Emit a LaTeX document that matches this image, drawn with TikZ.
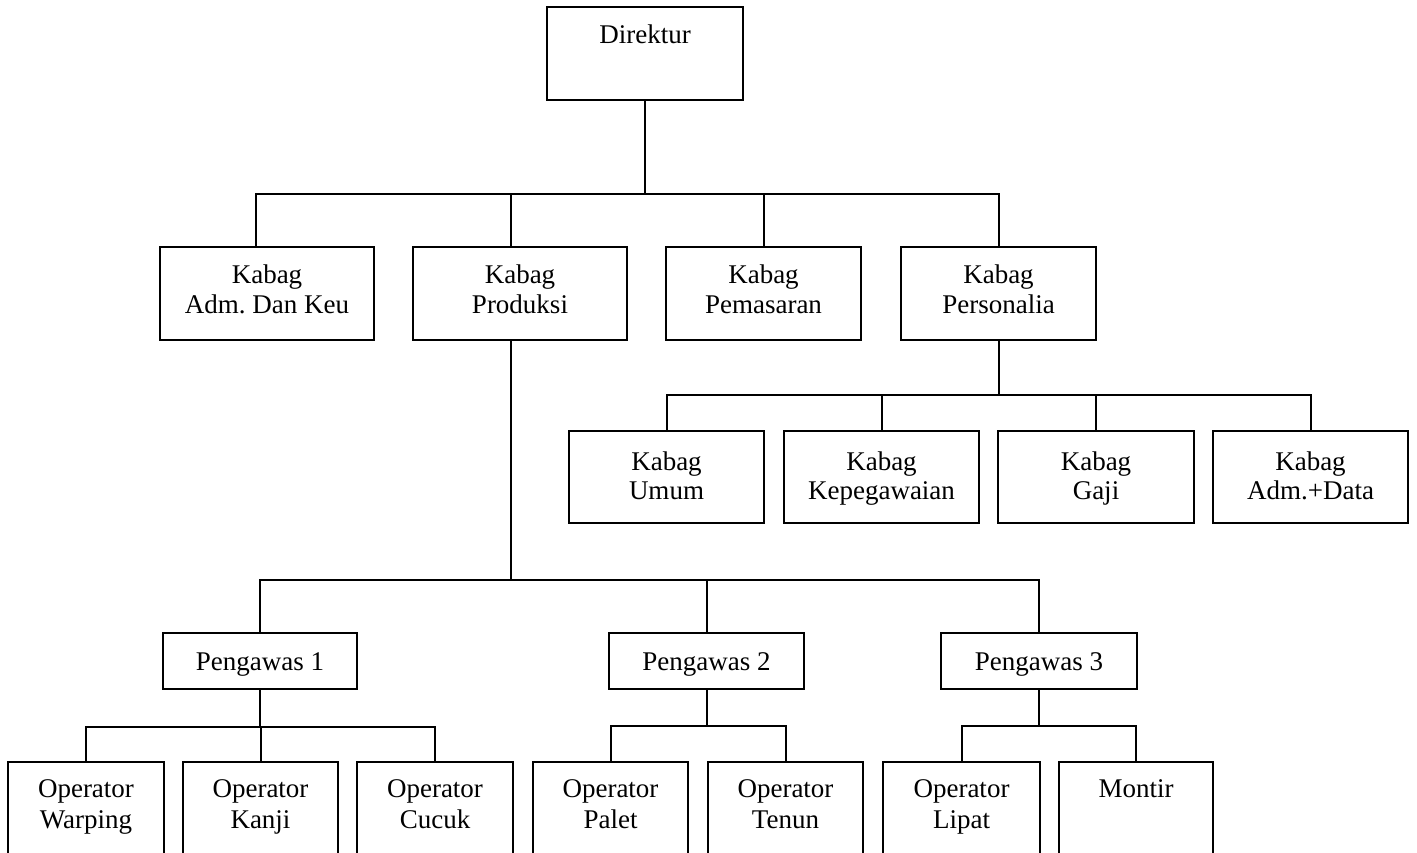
\documentclass[tikz,border=0pt]{standalone}
\usepackage{fontspec}
\setmainfont{Liberation Serif}
\frenchspacing
\begin{document}
\begin{tikzpicture}[x=1pt,y=-1pt,
  bx/.style={draw,line width=2.2pt,inner sep=0pt,minimum width=#1},
  hA/.style={minimum height=93pt},
  hB/.style={minimum height=92pt},
  hC/.style={minimum height=56pt},
  hD/.style={minimum height=138pt},
  lbl/.style={anchor=base,inner sep=0pt,font=\fontsize{27}{30}\selectfont},
  con/.style={line width=2pt}]
\clip (0,0) rectangle (1417,852);
\fill[white] (0,0) rectangle (1417,852);

% Level 0
\node[bx=196pt,hA] (dir) at (645,53.5) {};
\node[lbl] (dirt) at (645,43) {Direktur};

% Level 1
\node[bx=214pt,hA] (adm)  at (267,293.5) {};
\node[bx=214pt,hA] (prod) at (520,293.5) {};
\node[bx=195pt,hA] (pem)  at (763.5,293.5) {};
\node[bx=195pt,hA] (pers) at (998.5,293.5) {};
\node[lbl] (admt1)  at (267,283) {Kabag};
\node[lbl] (admt2)  at (267,313) {Adm.\ Dan Keu};
\node[lbl] (prodt1) at (520,283) {Kabag};
\node[lbl] (prodt2) at (520,313) {Produksi};
\node[lbl] (pemt1)  at (763.5,283) {Kabag};
\node[lbl] (pemt2)  at (763.5,313) {Pemasaran};
\node[lbl] (perst1) at (998.5,283) {Kabag};
\node[lbl] (perst2) at (998.5,313) {Personalia};

% Level 2 (Personalia)
\node[bx=195pt,hB] (umum) at (666.5,477) {};
\node[bx=195pt,hB] (kep)  at (881.5,477) {};
\node[bx=196pt,hB] (gaji) at (1096,477) {};
\node[bx=195pt,hB] (admd) at (1310.5,477) {};
\node[lbl] (umumt1) at (666.5,470) {Kabag};
\node[lbl] (umumt2) at (666.5,499) {Umum};
\node[lbl] (kept1)  at (881.5,470) {Kabag};
\node[lbl] (kept2)  at (881.5,499) {Kepegawaian};
\node[lbl] (gajit1) at (1096,470) {Kabag};
\node[lbl] (gajit2) at (1096,499) {Gaji};
\node[lbl] (admdt1) at (1310.5,470) {Kabag};
\node[lbl] (admdt2) at (1310.5,499) {Adm.+Data};

% Level 2 (Produksi)
\node[bx=194pt,hC] (pa) at (260,661) {};
\node[bx=195pt,hC] (pb) at (706.5,661) {};
\node[bx=196pt,hC] (pc) at (1039,661) {};
\node[lbl] (pat) at (260,670) {Pengawas 1};
\node[lbl] (pbt) at (706.5,670) {Pengawas 2};
\node[lbl] (pct) at (1039,670) {Pengawas 3};

% Level 3
\node[bx=156pt,hD] (warp)  at (86,831) {};
\node[bx=155pt,hD] (kanji) at (260.5,831) {};
\node[bx=156pt,hD] (cucuk) at (435,831) {};
\node[bx=155pt,hD] (palet) at (610.5,831) {};
\node[bx=155pt,hD] (tenun) at (785.5,831) {};
\node[bx=157pt,hD] (lipat) at (961.5,831) {};
\node[bx=154pt,hD] (montir) at (1136,831) {};
\node[lbl] (warpt1)  at (86,797) {Operator};
\node[lbl] (warpt2)  at (86,828) {Warping};
\node[lbl] (kanjit1) at (260.5,797) {Operator};
\node[lbl] (kanjit2) at (260.5,828) {Kanji};
\node[lbl] (cucukt1) at (435,797) {Operator};
\node[lbl] (cucukt2) at (435,828) {Cucuk};
\node[lbl] (palett1) at (610.5,797) {Operator};
\node[lbl] (palett2) at (610.5,828) {Palet};
\node[lbl] (tenunt1) at (785.5,797) {Operator};
\node[lbl] (tenunt2) at (785.5,828) {Tenun};
\node[lbl] (lipatt1) at (961.5,797) {Operator};
\node[lbl] (lipatt2) at (961.5,828) {Lipat};
\node[lbl] (montirt) at (1136,797) {Montir};

% Connectors
\draw[con] (dir.south) -- ++(0,93) -| ([xshift=-11pt]adm.north);
\draw[con] (dir.south) -- ++(0,93) -| ([xshift=-9pt]prod.north);
\draw[con] (dir.south) -- ++(0,93) -| (pem.north);
\draw[con] (dir.south) -- ++(0,93) -| (pers.north);

\draw[con] (pers.south) -- ++(0,54) -| (umum.north);
\draw[con] (pers.south) -- ++(0,54) -| (kep.north);
\draw[con] (pers.south) -- ++(0,54) -| (gaji.north);
\draw[con] (pers.south) -- ++(0,54) -| (admd.north);

\draw[con] ([xshift=-9pt]prod.south) -- ++(0,239) -| (pa.north);
\draw[con] ([xshift=-9pt]prod.south) -- ++(0,239) -| (pb.north);
\draw[con] ([xshift=-9pt]prod.south) -- ++(0,239) -| (pc.north);

\draw[con] (pa.south) -- ++(0,37) -| (warp.north);
\draw[con] (pa.south) -- ++(0,37) -| (kanji.north);
\draw[con] (pa.south) -- ++(0,37) -| (cucuk.north);

\draw[con] (pb.south) -- ++(0,36) -| (palet.north);
\draw[con] (pb.south) -- ++(0,36) -| (tenun.north);

\draw[con] (pc.south) -- ++(0,36) -| (lipat.north);
\draw[con] (pc.south) -- ++(0,36) -| (montir.north);
\end{tikzpicture}
\end{document}
